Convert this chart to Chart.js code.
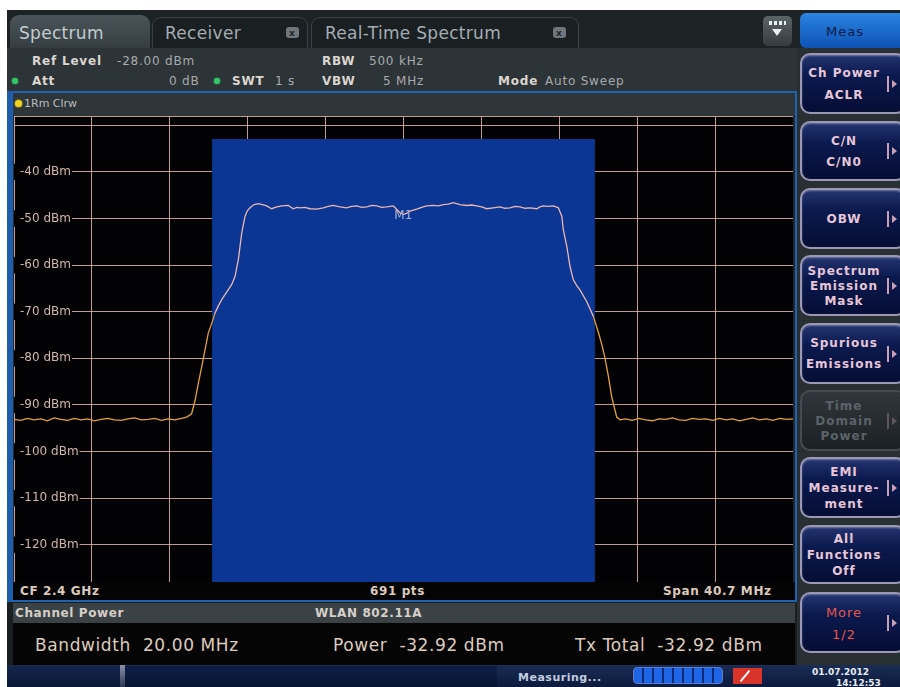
<!DOCTYPE html>
<html>
<head>
<meta charset="utf-8">
<script src="https://cdn.jsdelivr.net/npm/chart.js@4.4.1/dist/chart.umd.min.js"></script>
<style>
  html, body { margin: 0; padding: 0; background: #fff; }
  body { width: 900px; height: 687px; position: relative; overflow: hidden; font-family: 'DejaVu Sans', sans-serif; }
  .box { position: absolute; }
  .txt { position: absolute; white-space: pre; line-height: 1; transform: translateY(-50%); }
  .btn { position: absolute; left: 800px; width: 106px; border-radius: 10px; box-sizing: border-box;
         border: 2px solid #9a98b4; background: linear-gradient(#243470 0%, #0b1a4e 35%, #050d34 100%);
         box-shadow: inset 0 1px 2px rgba(255,255,255,0.35); }
  .btn.off { border-color: #454b52; background: linear-gradient(#30363b, #1c2125); box-shadow: none; }
  .blbl { position: absolute; left: 800px; width: 88px; text-align: center; white-space: pre; line-height: 1;
          transform: translateY(-50%); font-weight: bold; font-size: 12px; letter-spacing: 1px; color: #e6c6d8; }
  .arrow { position: absolute; left: 887px; width: 2px; height: 16px; background: #caa0b8; }
  .arrow::after { content: ''; position: absolute; left: 5px; top: 4px; border-left: 5px solid #caa0b8;
                  border-top: 4px solid transparent; border-bottom: 4px solid transparent; }
</style>
</head>
<body>
<div id="ui"></div>
<canvas id="spec" width="779" height="466" class="box" style="left:14px;top:116px;background:#020204;"></canvas>
<script>
// Sweep settings shown in the header and footer
const centerFreqGHz = 2.4;
const spanMHz = 40.7;
const sweepPoints = 691;
const refLevelDbm = -28;
const bottomLevelDbm = -128;
const channelBandwidthMHz = 20;
const channelPowerDbm = -32.92;
const txTotalDbm = -32.92;

// Level axis: gridlines every 10 dB, labels from -40 to -120 dBm
const yGridValues = [-128, -120, -110, -100, -90, -80, -70, -60, -50, -40, -30, -28];
const yLabelValues = [-40, -50, -60, -70, -80, -90, -100, -110, -120];
// Frequency axis: ten divisions across the span (offset from CF, MHz)
const xGridValues = [-20.35, -16.28, -12.21, -8.14, -4.07, 0, 4.07, 8.14, 12.21, 16.28, 20.35];

// Trace 1 (Clear Write): frequency offset from CF in MHz, level in dBm
const traceFreqMHz = [
  -20.35, -20.00, -19.65, -19.30, -18.95, -18.60, -18.25, -17.90, -17.55, -17.20,
  -16.85, -16.50, -16.15, -15.80, -15.45, -15.10, -14.75, -14.40, -14.05, -13.70,
  -13.35, -13.00, -12.65, -12.30, -11.95, -11.60,
  -11.33, -11.07, -10.89, -10.72, -10.54, -10.37, -10.20, -10.02, -9.85, -9.68,
  -9.50, -9.24, -8.98, -8.80, -8.63, -8.45, -8.28, -8.15, -8.02, -7.80,
  -7.59, -7.37, -7.15, -6.89, -6.62, -6.36, -6.02, -5.76, -5.58, -5.41,
  -5.15, -4.89, -4.54, -4.19, -3.93, -3.67, -3.32, -2.97, -2.71, -2.45,
  -2.18, -1.92, -1.66, -1.40, -1.14, -0.88, -0.53, -0.36, -0.18, -0.01,
  0.17, 0.34, 0.69, 0.95, 1.21, 1.56, 1.82, 2.08, 2.34, 2.60,
  2.95, 3.30, 3.56, 3.82, 4.08, 4.35, 4.69, 5.04, 5.30, 5.56,
  5.82, 6.09, 6.35, 6.61, 6.96, 7.13, 7.30, 7.57, 7.83, 8.09,
  8.27, 8.35, 8.53, 8.70, 8.87, 9.05, 9.22, 9.57, 9.92, 10.18,
  10.36, 10.53, 10.71, 10.88, 11.14, 11.31,
  11.60, 11.95, 12.30, 12.65, 13.00, 13.35, 13.70, 14.05, 14.40, 14.75,
  15.10, 15.45, 15.80, 16.15, 16.50, 16.85, 17.20, 17.55, 17.90, 18.25,
  18.60, 18.95, 19.30, 19.65, 20.00, 20.35
];
const traceLevelDbm = [
  -93.1, -93.3, -92.9, -93.2, -93.0, -93.4, -92.8, -93.1, -93.3, -92.9,
  -93.2, -93.0, -93.4, -93.1, -92.9, -93.2, -93.3, -93.0, -92.8, -93.2,
  -93.1, -92.9, -93.3, -93.0, -93.2, -92.9,
  -92.6, -91.9, -89.0, -85.4, -81.8, -78.2, -74.6, -72.5, -70.3, -68.8,
  -67.4, -65.8, -64.2, -62.4, -58.8, -53.1, -49.5, -48.3, -47.7, -47.0,
  -46.8, -47.0, -47.3, -47.9, -47.5, -47.3, -47.2, -47.9, -47.6, -47.7,
  -47.6, -47.9, -48.0, -47.7, -47.4, -47.2, -47.5, -47.7, -47.4, -47.3,
  -47.6, -47.5, -47.2, -47.3, -47.6, -47.5, -47.3, -48.0, -48.8, -49.1,
  -48.9, -48.4, -48.0, -47.6, -47.3, -47.2, -47.3, -47.0, -46.9, -46.6,
  -47.0, -47.2, -47.1, -47.3, -47.5, -47.9, -47.7, -47.5, -47.8, -47.7,
  -47.4, -47.5, -47.8, -47.7, -47.9, -47.5, -47.3, -47.4, -47.3, -47.7,
  -49.5, -52.4, -55.9, -60.3, -63.1, -64.4, -65.3, -67.8, -71.0, -74.4,
  -77.0, -80.0, -84.0, -88.3, -92.6, -93.2,
  -93.0, -93.3, -92.9, -93.2, -93.4, -93.0, -93.1, -92.8, -93.2, -93.3,
  -92.9, -93.1, -93.0, -93.3, -92.9, -93.2, -93.0, -93.4, -93.1, -92.8,
  -93.2, -93.0, -93.3, -92.9, -93.1, -93.0
];

// Marker 1 sits on the dip at the channel centre
const markerFreqMHz = -0.01;
const markerLevelDbm = -49.1;

const gridColor = 'rgba(222,176,160,0.88)';
const traceOutColor = '#e4a232';
const traceInColor = '#ecb6b0';
const channelBlue = '#0b3694';
const halfChannel = channelBandwidthMHz / 2;

// ---------- instrument frame (HTML) ----------
const ui = document.getElementById('ui');
function box(x, y, w, h, style) {
  const d = document.createElement('div');
  d.className = 'box';
  d.style.cssText = `left:${x}px;top:${y}px;width:${w}px;height:${h}px;` + (style || '');
  ui.appendChild(d);
  return d;
}
function text(x, y, s, style) {
  const d = document.createElement('div');
  d.className = 'txt';
  d.textContent = s;
  d.style.cssText = `left:${x}px;top:${y}px;` + (style || '');
  ui.appendChild(d);
  return d;
}
function dot(x, y, r, color) {
  box(x - r, y - r, 2 * r, 2 * r, `border-radius:50%;background:${color};box-shadow:0 0 2px ${color};`);
}

// panel background
box(7, 10, 893, 677, 'background:#22282b;');
// tab strip
box(7, 10, 893, 38, 'background:#1d2225;');
box(10, 15, 140, 34, 'background:linear-gradient(#4b5559,#343c40);border-radius:9px 9px 0 0;');
box(152, 17, 156, 31, 'background:#1a1f22;border:1px solid #394145;border-bottom:none;border-radius:9px 9px 0 0;box-sizing:border-box;');
box(311, 17, 268, 31, 'background:#1a1f22;border:1px solid #394145;border-bottom:none;border-radius:9px 9px 0 0;box-sizing:border-box;');
const tabFont = 'font-size:17px;color:#b4bfc4;letter-spacing:0.3px;';
text(19, 33, 'Spectrum', tabFont + 'color:#c2ccd0;');
text(165, 33, 'Receiver', tabFont + 'color:#a4adb2;');
text(325, 33, 'Real-Time Spectrum', tabFont + 'color:#a4adb2;');
[286, 553].forEach(x => {
  box(x, 27, 13, 11, 'background:#6f777c;border-radius:3px;');
  text(x + 3, 33, 'x', 'font-size:9px;font-weight:bold;color:#22282b;');
});
// menu drop-down button
box(763, 16, 29, 30, 'background:linear-gradient(#5b6469,#353c40);border-radius:5px;');
box(769, 21, 17, 4, 'background:repeating-linear-gradient(90deg,#e8eef2 0 3px,transparent 3px 5px);');
box(772, 29, 0, 0, 'border-left:5px solid transparent;border-right:5px solid transparent;border-top:7px solid #e8eef2;');
// Meas button
box(800, 13, 100, 35, 'background:linear-gradient(#2a84e0,#0d52b4);border-radius:6px 0 0 6px;');
text(826, 31, 'Meas', 'font-size:13px;color:#0b1d48;letter-spacing:1px;');

// header info area
box(7, 48, 790, 44, 'background:#2d3437;');
const hb = 'font-size:12px;font-weight:bold;color:#dcd6d0;letter-spacing:0.8px;';
const hv = 'font-size:12px;color:#a9aaac;letter-spacing:0.8px;';
text(32, 61, 'Ref Level', hb);
text(117, 61, `${refLevelDbm.toFixed(2)} dBm`, hv);
dot(15, 81, 3, '#35c86a');
text(32, 81, 'Att', hb);
text(169, 81, '0 dB', hv);
dot(217, 81, 3, '#35c86a');
text(232, 81, 'SWT', hb);
text(275, 81, '1 s', hv);
text(322, 61, 'RBW', hb);
text(369, 61, '500 kHz', hv);
text(322, 81, 'VBW', hb);
text(383, 81, '5 MHz', hv);
text(498, 81, 'Mode', hb);
text(545, 81, 'Auto Sweep', hv);

// diagram frame
box(12, 91, 785, 2, 'background:#1f62b0;');
box(7, 91, 6, 510, 'background:#1e5cac;');
box(795, 91, 2, 512, 'background:#1f62b0;');
box(13, 93, 782, 23, 'background:#2e363a;');
dot(18, 103, 3.5, '#f2d21e');
text(24, 103, '1Rm Clrw', 'font-size:11px;color:#b9bcbe;');

// footer of the diagram
box(13, 582, 782, 18, 'background:#040405;');
const fb = 'font-size:12px;font-weight:bold;color:#dccbbd;letter-spacing:0.6px;';
text(20, 591, `CF ${centerFreqGHz} GHz`, fb);
text(370, 591, `${sweepPoints} pts`, fb);
text(663, 591, `Span ${spanMHz} MHz`, fb);
box(7, 600, 790, 2, 'background:#1f62b0;');

// channel power result table
box(7, 602, 790, 63, 'background:#1a1f22;');
box(13, 603, 782, 20, 'background:#3a4245;');
text(15, 613, 'Channel Power', fb + 'color:#d6cec8;');
text(315, 613, 'WLAN 802.11A', fb + 'color:#d6cec8;');
box(13, 623, 782, 42, 'background:#050506;');
const rv = 'font-size:17px;color:#ddcbbc;letter-spacing:0.6px;';
text(35, 645, `Bandwidth  ${channelBandwidthMHz.toFixed(2)} MHz`, rv);
text(333, 645, `Power  ${channelPowerDbm.toFixed(2)} dBm`, rv);
text(575, 645, `Tx Total  ${txTotalDbm.toFixed(2)} dBm`, rv);

// softkey panel
box(797, 48, 103, 617, 'background:#293034;');
const softkeys = [
  { top: 53, h: 61, lines: ['Ch Power', 'ACLR'], gap: 22, arrow: true },
  { top: 121, h: 60, lines: ['C/N', 'C/N0'], gap: 21, arrow: true },
  { top: 188, h: 61, lines: ['OBW'], gap: 0, arrow: true },
  { top: 255, h: 61, lines: ['Spectrum', 'Emission', 'Mask'], gap: 15, arrow: true },
  { top: 323, h: 61, lines: ['Spurious', 'Emissions'], gap: 21, arrow: true },
  { top: 390, h: 61, lines: ['Time', 'Domain', 'Power'], gap: 15, arrow: true, off: true },
  { top: 457, h: 61, lines: ['EMI', 'Measure-', 'ment'], gap: 16, arrow: true },
  { top: 525, h: 59, lines: ['All', 'Functions', 'Off'], gap: 16, arrow: false },
  { top: 592, h: 61, lines: ['More', '1/2'], gap: 22, arrow: true, red: true }
];
softkeys.forEach(k => {
  const b = document.createElement('div');
  b.className = 'btn' + (k.off ? ' off' : '');
  b.style.top = k.top + 'px';
  b.style.height = k.h + 'px';
  ui.appendChild(b);
  const mid = k.top + k.h / 2;
  const n = k.lines.length;
  k.lines.forEach((s, i) => {
    const l = document.createElement('div');
    l.className = 'blbl';
    l.textContent = s;
    l.style.top = (mid + (i - (n - 1) / 2) * k.gap) + 'px';
    if (k.off) l.style.color = '#5b6369';
    if (k.red) { l.style.color = '#e4574e'; l.style.fontWeight = 'normal'; l.style.fontSize = '13px'; }
    ui.appendChild(l);
  });
  if (k.arrow) {
    const a = document.createElement('div');
    a.className = 'arrow';
    a.style.top = (mid - 8) + 'px';
    if (k.off) a.style.opacity = '0.35';
    ui.appendChild(a);
  }
});

// status bar
box(7, 665, 893, 22, 'background:linear-gradient(#1a2c55,#0b1a3c);');
box(7, 666, 113, 21, 'background:linear-gradient(#14264c,#0a1736);');
box(120, 665, 5, 22, 'background:linear-gradient(#8a93a6,#2a3552);');
box(125, 666, 372, 21, 'background:linear-gradient(#0f1f45,#081433);');
text(518, 677, 'Measuring...', 'font-size:11px;font-weight:bold;color:#c4cde0;letter-spacing:0.5px;');
box(633, 667, 90, 17, 'border:1px solid #5f7ac0;border-radius:4px;box-sizing:border-box;background:repeating-linear-gradient(90deg,#1f66e6 0 8px,#0c2a78 8px 10px);');
box(733, 668, 29, 16, 'background:#d8342a;');
box(744, 669, 2, 14, 'background:#fff;transform:rotate(40deg);');
text(812, 672, '01.07.2012', 'font-size:9px;font-weight:bold;color:#e6ecf4;');
text(836, 683, '14:12:53', 'font-size:9px;font-weight:bold;color:#e6ecf4;');

// ---------- spectrum diagram (Chart.js) ----------
const inChannel = f => Math.abs(f) <= halfChannel;

// Axes occupy no room of their own: the grid fills the whole canvas
function noAxisRoom(s) {
  if (s.isHorizontal()) s.height = 0; else s.width = 0;
  s.paddingTop = 0; s.paddingBottom = 0; s.paddingLeft = 0; s.paddingRight = 0;
}

const markerLabel = {
  id: 'markerLabel',
  afterDatasetsDraw(chart) {
    const { ctx, scales } = chart;
    const x = scales.x.getPixelForValue(markerFreqMHz);
    const y = scales.y.getPixelForValue(markerLevelDbm);
    ctx.save();
    ctx.font = '12px "DejaVu Sans"';
    ctx.fillStyle = '#a9b0d2';
    ctx.textAlign = 'center';
    ctx.textBaseline = 'middle';
    ctx.fillText('M1', x, y + 2);
    ctx.restore();
  }
};

new Chart(document.getElementById('spec'), {
  type: 'line',
  data: {
    datasets: [
      {
        label: 'Trace 1',
        data: traceFreqMHz.map((f, i) => ({ x: f, y: traceLevelDbm[i] })),
        borderColor: traceOutColor,
        borderWidth: 1.3,
        pointRadius: 0,
        tension: 0,
        segment: {
          borderColor: c => (inChannel(c.p0.parsed.x) && inChannel(c.p1.parsed.x)) ? traceInColor : traceOutColor
        }
      },
      {
        label: 'Channel power',
        data: [{ x: -halfChannel, y: channelPowerDbm }, { x: halfChannel, y: channelPowerDbm }],
        fill: 'start',
        backgroundColor: channelBlue,
        borderWidth: 0,
        pointRadius: 0
      }
    ]
  },
  options: {
    responsive: false,
    animation: false,
    events: [],
    layout: { padding: 0 },
    plugins: { legend: { display: false }, tooltip: { enabled: false } },
    scales: {
      x: {
        type: 'linear',
        min: -spanMHz / 2,
        max: spanMHz / 2,
        afterBuildTicks: s => { s.ticks = xGridValues.map(v => ({ value: v })); },
        afterFit: noAxisRoom,
        ticks: { display: false },
        grid: { color: gridColor, lineWidth: 1, drawTicks: false },
        border: { display: false }
      },
      y: {
        type: 'linear',
        min: bottomLevelDbm,
        max: refLevelDbm,
        afterBuildTicks: s => { s.ticks = yGridValues.map(v => ({ value: v })); },
        afterFit: noAxisRoom,
        grid: { color: gridColor, lineWidth: 1, drawTicks: false },
        border: { display: false },
        ticks: {
          mirror: true,
          padding: 6,
          z: 1,
          color: '#d2b5a9',
          font: { family: 'DejaVu Sans', size: 12 },
          showLabelBackdrop: true,
          backdropColor: c => yLabelValues.includes(c.tick.value) ? '#020204' : 'rgba(0,0,0,0)',
          backdropPadding: { left: 6, right: 1, top: 1, bottom: 1 },
          callback: v => yLabelValues.includes(v) ? `${v} dBm` : ''
        }
      }
    }
  },
  plugins: [markerLabel]
});
</script>
</body>
</html>
